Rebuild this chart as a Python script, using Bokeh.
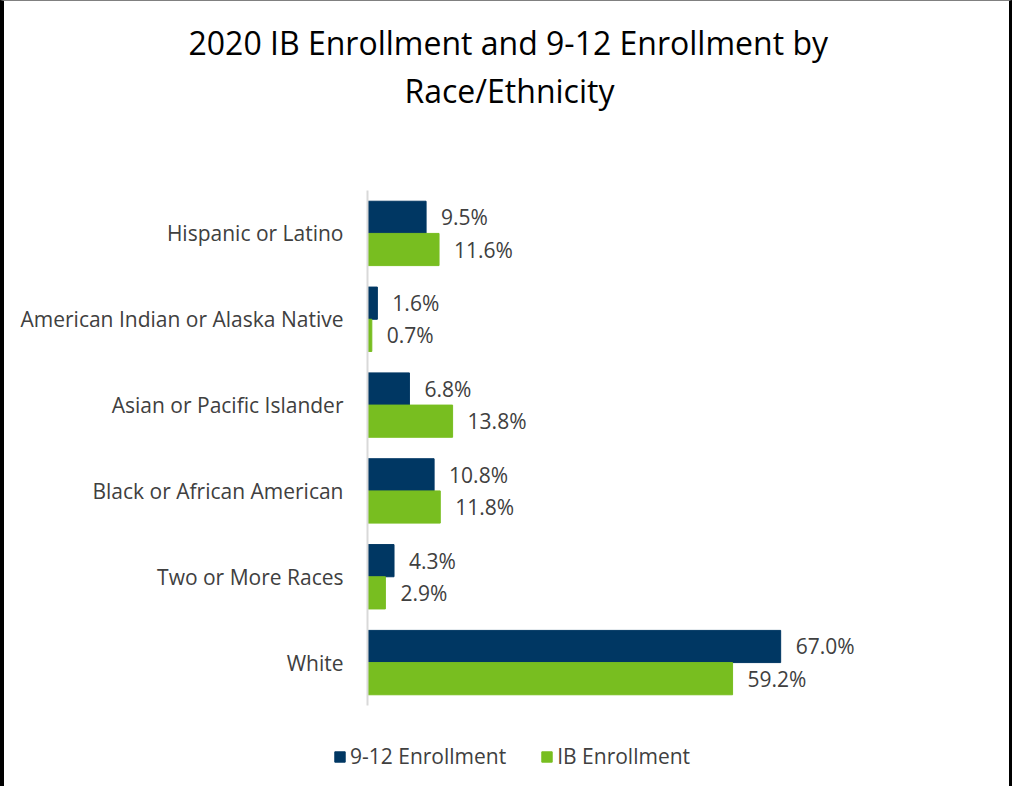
from bokeh.plotting import figure
from bokeh.layouts import column
from bokeh.models import Range1d, FactorRange, ColumnDataSource, Title, Legend, LegendItem
from bokeh.transform import dodge
from bokeh.core.properties import value
from bokeh.embed import file_html
from bokeh.resources import INLINE

races = ["Hispanic or Latino", "American Indian or Alaska Native", "Asian or Pacific Islander",
         "Black or African American", "Two or More Races", "White"]
enroll_9_12 = [9.5, 1.6, 6.8, 10.8, 4.3, 67.0]
enroll_ib = [11.6, 0.7, 13.8, 11.8, 2.9, 59.2]
series_names = ["9-12 Enrollment", "IB Enrollment"]
title_lines = ["2020 IB Enrollment and 9-12 Enrollment by", "Race/Ethnicity"]

BLUE = "#003763"
GREEN = "#78be20"
FONT = "Open Sans"
TXT = "#404040"
FS = "21px"

src = ColumnDataSource(dict(
    race=races,
    a=enroll_9_12,
    b=enroll_ib,
    a_lab=["%.1f%%" % v for v in enroll_9_12],
    b_lab=["%.1f%%" % v for v in enroll_ib],
))

W = 1012
H1, H2 = 720, 66
FL, FT, FB = 363, 189, 703
p = figure(width=W, height=H1, output_backend="svg", toolbar_location=None,
           y_range=FactorRange(factors=list(reversed(races)), range_padding=0),
           x_range=Range1d(0, 96),
           min_border_left=FL, min_border_right=57, min_border_top=FT,
           min_border_bottom=(H1 - 1) - FB)
p.outline_line_color = None
p.xgrid.visible = False
p.ygrid.visible = False
p.xaxis.visible = False
p.background_fill_color = "white"
p.border_fill_color = "white"

ax = p.yaxis[0]
ax.axis_line_color = "#d9d9d9"
ax.axis_line_width = 2
ax.major_tick_line_color = None
ax.minor_tick_line_color = None
ax.major_tick_out = 0
ax.major_tick_in = 0
ax.major_label_standoff = 24
ax.major_label_text_font = FONT
ax.major_label_text_font_size = FS
ax.major_label_text_color = TXT

off = 0.1875
hh = 0.375
p.hbar(y=dodge("race", off, range=p.y_range), left=0, right="a", height=hh,
       source=src, fill_color=BLUE, line_color=BLUE)
p.hbar(y=dodge("race", -off, range=p.y_range), left=0, right="b", height=hh,
       source=src, fill_color=GREEN, line_color=GREEN)

for col, lab, o in (("a", "a_lab", off), ("b", "b_lab", -off)):
    p.text(x=col, y=dodge("race", o, range=p.y_range), text=lab, source=src,
           x_offset=15, text_baseline="middle", text_align="left",
           text_font=value(FONT), text_font_size=FS, text_color=TXT)

# Title: figure title is outermost; added titles stack outward from the frame
p.title.text = title_lines[0]
p.title.align = "left"
p.title.offset = -179
p.title.standoff = 3
p.title.text_font = FONT
p.title.text_font_size = "32px"
p.title.text_font_style = "normal"
p.title.text_color = "#000000"
p.add_layout(Title(text=" ", text_font_size="60px", standoff=8), "above")
p.add_layout(Title(text=title_lines[1], align="left", offset=37, standoff=3, text_font=FONT,
                   text_font_size="32px", text_font_style="normal",
                   text_color="#000000"), "above")

# Legend strip below the chart (its own frame covers the whole strip)
lf = figure(width=W, height=H2, output_backend="svg", toolbar_location=None,
            x_range=Range1d(0, 1), y_range=Range1d(0, 1),
            min_border=0, min_border_left=0, min_border_right=0,
            min_border_top=0, min_border_bottom=0)
lf.axis.visible = False
lf.grid.visible = False
lf.outline_line_color = None
lf.border_fill_color = "white"
la = lf.hbar(y="a", left=0, right="a", height=hh, source=src,
             fill_color=BLUE, line_color=BLUE, visible=False)
lb = lf.hbar(y="b", left=0, right="b", height=hh, source=src,
             fill_color=GREEN, line_color=GREEN, visible=False)
legend = Legend(items=[LegendItem(label=series_names[0], renderers=[la]),
                       LegendItem(label=series_names[1], renderers=[lb])],
                orientation="horizontal", location=(329, 16),
                glyph_width=13, glyph_height=13, label_standoff=4, spacing=34,
                padding=0, margin=0, border_line_color=None, background_fill_alpha=0,
                inactive_fill_alpha=0,
                label_text_font=FONT, label_text_font_size=FS, label_text_color=TXT,
                label_height=20)
lf.add_layout(legend, "center")

for fig in (p, lf):
    try:
        fig.frame_align = False
    except Exception:
        pass

p.styles = {"border-left": "4px solid black", "border-right": "3px solid black",
            "border-top": "1px solid #808080", "box-sizing": "border-box"}
lf.styles = {"border-left": "4px solid black", "border-right": "3px solid black",
             "box-sizing": "border-box"}

layout = column(p, lf, spacing=0)
open("out.html", "w").write(file_html(layout, INLINE))
